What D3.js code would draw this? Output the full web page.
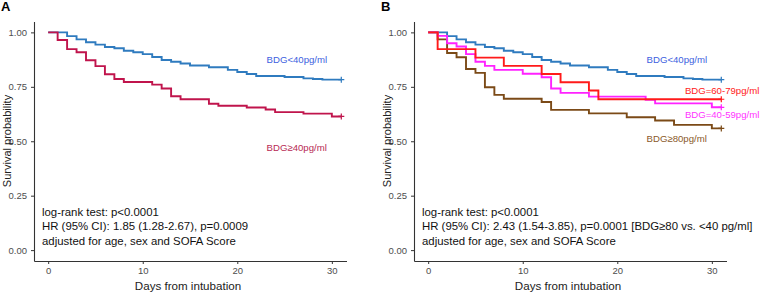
<!DOCTYPE html>
<html>
<head>
<meta charset="utf-8">
<script src="https://cdn.jsdelivr.net/npm/d3@7"></script>
<style>
  body { margin: 0; background: #fff; }
  svg { display: block; font-family: "Liberation Sans", Arial, sans-serif; }
</style>
</head>
<body>
<svg id="chart" width="762" height="296"></svg>
<script>
// Kaplan-Meier step values (time in days, survival)
const blueTimes = [0, 2, 3, 4, 5, 6, 7, 8, 9, 10, 11, 12, 13, 14, 15, 17, 19, 20, 21, 22, 25, 27, 28, 29];
const blueSurv = [1, 0.983, 0.968, 0.955, 0.944, 0.933, 0.927, 0.916, 0.909, 0.9, 0.887, 0.873, 0.865, 0.857, 0.848, 0.84, 0.828, 0.818, 0.809, 0.8, 0.795, 0.789, 0.786, 0.783];

const highTimes = [0, 1, 2, 3, 4, 5, 6, 7, 8, 11, 12, 13, 14, 17, 18, 21, 23, 24, 27, 30];
const highSurv = [1, 0.965, 0.923, 0.909, 0.872, 0.845, 0.808, 0.786, 0.772, 0.76, 0.742, 0.707, 0.693, 0.672, 0.663, 0.655, 0.646, 0.634, 0.627, 0.614];

const midTimes = [0, 1, 5, 8, 12, 14, 17, 18];
const midSurv = [1, 0.923, 0.884, 0.846, 0.809, 0.771, 0.733, 0.693];

const lowTimes = [0, 1, 2, 3, 4, 5, 6, 7, 10, 12, 13, 14, 17, 23, 24, 30];
const lowSurv = [1, 0.984, 0.95, 0.935, 0.9, 0.865, 0.846, 0.828, 0.81, 0.794, 0.742, 0.722, 0.705, 0.69, 0.674, 0.656];

const topTimes = [0, 1, 2, 3, 4, 5, 6, 7, 8, 12, 13, 17, 21, 24, 26, 30];
const topSurv = [1, 0.968, 0.905, 0.886, 0.832, 0.814, 0.748, 0.713, 0.695, 0.68, 0.644, 0.628, 0.61, 0.595, 0.575, 0.559];

const END_DAY = 31;
const xTicks = [0, 10, 20, 30];
const yTicks = [0, 0.25, 0.5, 0.75, 1];

const panels = [
  {
    letter: "A",
    left: 0,
    curves: [
      { times: blueTimes, surv: blueSurv, color: "#2f7bbf" },
      { times: highTimes, surv: highSurv, color: "#c0144c" },
    ],
    labels: [
      { text: "BDG<40pg/ml", t: 23.1, s: 0.86, color: "#3d5fe0" },
      { text: "BDG\u226540pg/ml", t: 23.1, s: 0.455, color: "#b82a55" },
    ],
    notes: [
      "log-rank test: p<0.0001",
      "HR (95% CI): 1.85 (1.28-2.67), p=0.0009",
      "adjusted for age, sex and SOFA Score",
    ],
  },
  {
    letter: "B",
    left: 380,
    curves: [
      { times: blueTimes, surv: blueSurv, color: "#2f7bbf" },
      { times: topTimes, surv: topSurv, color: "#7b4a17" },
      { times: lowTimes, surv: lowSurv, color: "#ff22ff" },
      { times: midTimes, surv: midSurv, color: "#ff1a1a" },
    ],
    labels: [
      { text: "BDG<40pg/ml", t: 23.1, s: 0.86, color: "#3d5fe0" },
      { text: "BDG=60-79pg/ml", t: 27.15, s: 0.718, color: "#ff1a1a" },
      { text: "BDG=40-59pg/ml", t: 27.15, s: 0.608, color: "#ff33ff" },
      { text: "BDG\u226580pg/ml", t: 23.1, s: 0.498, color: "#8a5a2a" },
    ],
    notes: [
      "log-rank test: p<0.0001",
      "HR (95% CI): 2.43 (1.54-3.85), p=0.0001 [BDG\u226580 vs. <40 pg/ml]",
      "adjusted for age, sex and SOFA Score",
    ],
  },
];

const svg = d3.select("#chart");

const y = d3.scaleLinear().domain([-0.05, 1.05]).range([261, 21.5]);

panels.forEach((p) => {
  const x = d3.scaleLinear().domain([-1.5, 31.55]).range([p.left + 34, p.left + 346.5]);
  const g = svg.append("g");

  // axes
  g.append("g")
    .attr("transform", `translate(${p.left + 34},0)`)
    .call(d3.axisLeft(y).tickValues(yTicks).tickFormat(d3.format(".2f")).tickSize(3).tickSizeOuter(0))
    .call((a) => a.select(".domain").attr("stroke", "#333").attr("stroke-width", 1.1))
    .call((a) => a.selectAll(".tick line").attr("stroke", "#333"))
    .call((a) => a.selectAll("text").attr("fill", "#4d4d4d").attr("font-size", 9.5).attr("dx", -1));

  g.append("g")
    .attr("transform", "translate(0,261)")
    .call(d3.axisBottom(x).tickValues(xTicks).tickSize(3).tickSizeOuter(0))
    .call((a) => a.select(".domain").attr("stroke", "#333").attr("stroke-width", 1.1))
    .call((a) => a.selectAll(".tick line").attr("stroke", "#333"))
    .call((a) => a.selectAll("text").attr("fill", "#4d4d4d").attr("font-size", 9.5));

  // axis titles
  g.append("text")
    .attr("transform", `translate(${p.left + 10.5},141) rotate(-90)`)
    .attr("text-anchor", "middle")
    .attr("font-size", 11)
    .attr("fill", "#222")
    .text("Survival probability");

  g.append("text")
    .attr("x", p.left + 188)
    .attr("y", 290)
    .attr("text-anchor", "middle")
    .attr("font-size", 11.6)
    .attr("fill", "#222")
    .text("Days from intubation");

  g.append("text")
    .attr("x", p.left + 1)
    .attr("y", 11)
    .attr("font-size", 13)
    .attr("font-weight", "bold")
    .text(p.letter);

  // step curves
  const line = d3.line()
    .x((d) => x(d[0]))
    .y((d) => y(d[1]))
    .curve(d3.curveStepAfter);

  p.curves.forEach((c) => {
    const pts = c.times.map((t, i) => [t, c.surv[i]]);
    pts.push([END_DAY, c.surv[c.surv.length - 1]]);
    g.append("path")
      .datum(pts)
      .attr("fill", "none")
      .attr("stroke", c.color)
      .attr("stroke-width", 1.9)
      .attr("d", line);

    // censor mark at the end
    const cx = x(END_DAY), cy = y(c.surv[c.surv.length - 1]);
    g.append("path")
      .attr("d", `M${cx - 3},${cy}H${cx + 3}M${cx},${cy - 3}V${cy + 3}`)
      .attr("stroke", c.color)
      .attr("stroke-width", 1.2);
  });

  p.labels.forEach((l) => {
    g.append("text")
      .attr("x", x(l.t))
      .attr("y", y(l.s))
      .attr("font-size", 9.6)
      .attr("fill", l.color)
      .text(l.text);
  });

  p.notes.forEach((n, i) => {
    g.append("text")
      .attr("x", p.left + 42)
      .attr("y", 215.5 + i * 14.5)
      .attr("font-size", 11.4)
      .attr("fill", "#111")
      .text(n);
  });
});
</script>
</body>
</html>
